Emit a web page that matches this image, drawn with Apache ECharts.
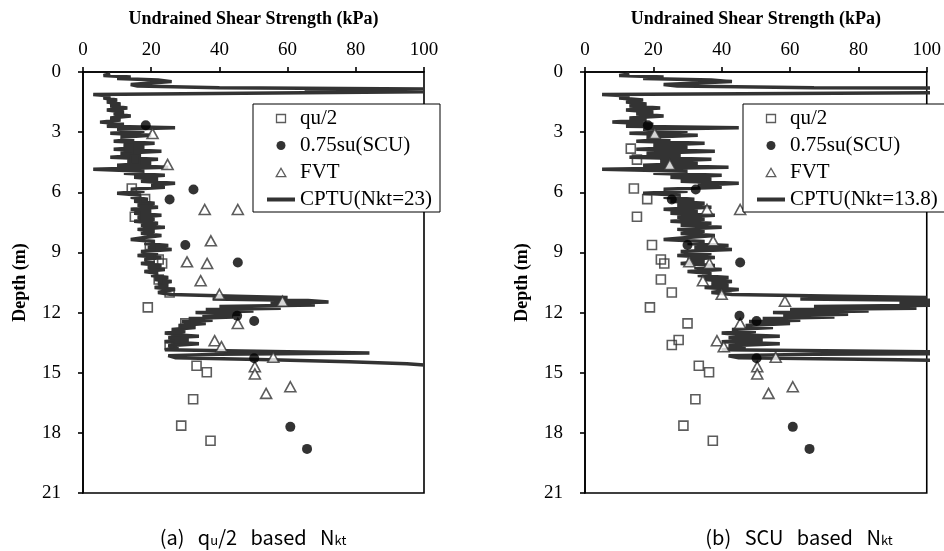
<!DOCTYPE html>
<html lang="en">
<head>
<meta charset="UTF-8">
<title>Undrained shear strength profiles</title>
<script src="https://cdn.jsdelivr.net/npm/echarts@6.0.0/dist/echarts.min.js"></script>
<style>
  html, body { margin: 0; padding: 0; background: #fff; }
</style>
</head>
<body>
<div id="main" style="width: 944px;height:551px;"></div>
<script type="text/javascript">
// tick labels
const suTicks = [0, 20, 40, 60, 80, 100];
const depthTicks = [0, 3, 6, 9, 12, 15, 18, 21];

// lab / field test results (same in both panels)
const quDepth = [3.82, 4.37, 5.81, 6.34, 7.22, 8.63, 9.35, 9.55, 10.35, 11.0, 11.74, 12.54, 13.37, 13.62, 14.65, 14.98, 16.32, 17.64, 18.39];
const quSu = [13.4, 15.2, 14.3, 18.2, 15.2, 19.6, 22.2, 23.2, 22.2, 25.4, 19.0, 30.0, 27.4, 25.4, 33.3, 36.3, 32.3, 28.8, 37.4];

const scuDepth = [2.66, 5.86, 6.36, 8.63, 9.5, 12.16, 12.42, 14.28, 17.7, 18.8];
const scuSu = [18.4, 32.4, 25.4, 30.0, 45.4, 45.2, 50.2, 50.2, 60.8, 65.7];

const fvtDepth = [3.07, 4.61, 6.86, 6.86, 8.42, 9.47, 9.55, 10.41, 11.09, 11.43, 12.54, 13.4, 13.7, 14.23, 14.7, 15.06, 15.7, 16.03];
const fvtSu = [20.4, 24.8, 35.7, 45.4, 37.5, 30.5, 36.4, 34.5, 40.0, 58.5, 45.4, 38.6, 40.6, 55.8, 50.4, 50.4, 60.8, 53.7];

// CPTU profile depths (m)
const cptuDepth = [0.10, 0.18, 0.25, 0.32, 0.40, 0.48, 0.55, 0.62, 0.70, 0.78, 0.85, 0.92, 0.98, 1.06, 1.12,
  1.20, 1.30, 1.40, 1.50, 1.60, 1.70, 1.80, 1.90, 2.00, 2.10, 2.20, 2.30, 2.40, 2.50, 2.60, 2.70, 2.78, 2.85, 2.95,
  3.05, 3.15, 3.25, 3.35, 3.45, 3.55, 3.65, 3.75, 3.85, 3.95, 4.05, 4.15, 4.25, 4.35, 4.45, 4.55, 4.65, 4.75, 4.85, 4.95,
  5.05, 5.15, 5.25, 5.35, 5.45, 5.55, 5.65, 5.75, 5.85, 5.95, 6.05, 6.15, 6.25, 6.35, 6.45, 6.55, 6.65, 6.75, 6.85, 6.95,
  7.05, 7.15, 7.25, 7.35, 7.45, 7.55, 7.65, 7.75, 7.85, 7.95, 8.05, 8.15, 8.25, 8.35, 8.45, 8.55, 8.65, 8.75, 8.85, 8.95,
  9.05, 9.15, 9.25, 9.35, 9.45, 9.55, 9.65, 9.75, 9.85, 9.95, 10.05, 10.15, 10.25, 10.35, 10.45, 10.55, 10.65, 10.75, 10.85, 10.92,
  11.00, 11.10, 11.18, 11.25, 11.32, 11.40, 11.47, 11.55, 11.62, 11.70, 11.78, 11.85, 11.92, 12.00, 12.08, 12.15, 12.22, 12.30, 12.38, 12.45,
  12.55, 12.65, 12.75, 12.85, 12.95, 13.02, 13.10, 13.18, 13.26, 13.35, 13.45, 13.55, 13.65, 13.75, 13.85, 13.95, 14.02, 14.08, 14.15, 14.25,
  14.35, 14.45, 14.55, 14.62];

// CPTU su, Nkt = 23 (kPa)
const cptuSu23 = [8, 6, 14, 10, 22, 26, 20, 14, 16, 40, 100, 65, 100, 100, 3,
  8, 6, 10, 7, 11, 8, 13, 7, 12, 9, 14, 8, 11, 5, 12, 7, 27, 10, 18,
  8, 20, 11, 15, 9, 21, 12, 18, 9, 23, 11, 17, 8, 22, 13, 20, 10, 25, 3, 18,
  12, 24, 15, 22, 17, 27, 20, 24, 14, 18, 10, 17, 14, 19, 15, 21, 16, 22, 14, 20,
  15, 23, 16, 21, 15, 22, 17, 24, 16, 21, 17, 23, 18, 14, 21, 18, 25, 19, 26, 17,
  22, 16, 23, 18, 21, 17, 23, 19, 24, 18, 22, 20, 25, 21, 26, 22, 25, 21, 27, 24,
  22, 26, 45, 60, 38, 66, 72, 55, 68, 40, 58, 36, 50, 33, 46, 35, 44, 31, 38, 29,
  36, 28, 33, 26, 30, 24, 27, 34, 25, 31, 24, 34, 25, 28, 24, 60, 84, 40, 25, 27,
  55, 78, 95, 100];

// CPTU su, Nkt = 13.8 (kPa), runs off the right edge where it exceeds 100
const cptuSu138 = [13, 10, 23, 17, 37, 43, 33, 23, 27, 67, 167, 108, 167, 167, 5,
  13, 10, 17, 12, 18, 13, 22, 12, 20, 15, 23, 13, 18, 8, 20, 12, 45, 17, 30,
  13, 33, 18, 25, 15, 35, 20, 30, 15, 38, 18, 28, 13, 37, 22, 33, 17, 42, 5, 30,
  20, 40, 25, 37, 28, 45, 33, 40, 23, 30, 17, 28, 23, 32, 25, 35, 27, 37, 23, 33,
  25, 38, 27, 35, 25, 37, 28, 40, 27, 35, 28, 38, 30, 23, 35, 30, 42, 32, 43, 28,
  37, 27, 38, 30, 35, 28, 38, 32, 40, 30, 37, 33, 42, 35, 43, 37, 42, 35, 45, 40,
  37, 43, 75, 100, 63, 110, 120, 92, 113, 67, 97, 60, 83, 55, 77, 58, 73, 52, 63, 48,
  60, 47, 55, 43, 50, 40, 45, 57, 42, 52, 40, 57, 42, 47, 40, 100, 140, 67, 42, 45,
  92, 130, 158, 167];

const serif = 'Liberation Serif';
const pair = (xs, ys) => xs.map((v, i) => [v, ys[i]]);

// legend icons: the extra moveTo points pin the icon box to 28x9 so the marks keep their shape
const squareIcon = 'path://M0,0M28,9M9.5,0.5L18.5,0.5L18.5,8.5L9.5,8.5Z';
const triangleIcon = 'path://M0,0M28,9M14,0.3L18.8,8.7L9.2,8.7Z';

const tickLabel = {
  fontFamily: serif, fontSize: 19, color: '#000',
  formatter: (v) => '{t|' + v + '}',
  rich: { t: { fontFamily: serif, fontSize: 19, color: '#000' } }
};

function xAxisFor(gridIndex) {
  return {
    gridIndex: gridIndex, type: 'value', position: 'top',
    min: suTicks[0], max: suTicks[suTicks.length - 1], interval: 20,
    name: 'Undrained Shear Strength (kPa)', nameLocation: 'middle', nameGap: 44,
    nameTextStyle: { fontFamily: serif, fontWeight: 'bold', fontSize: 18, color: '#000' },
    axisLine: { show: true, lineStyle: { color: '#000', width: 1.6 } },
    axisTick: { show: true, length: 5, lineStyle: { color: '#000', width: 1.6 } },
    axisLabel: Object.assign({ margin: 12 }, tickLabel),
    splitLine: { show: false }
  };
}
function yAxisFor(gridIndex) {
  return {
    gridIndex: gridIndex, type: 'value', inverse: true,
    min: depthTicks[0], max: depthTicks[depthTicks.length - 1], interval: 3,
    name: 'Depth (m)', nameLocation: 'middle', nameGap: 54,
    nameTextStyle: { fontFamily: serif, fontWeight: 'bold', fontSize: 18, color: '#000' },
    axisLine: { show: true, lineStyle: { color: '#000', width: 1.6 } },
    axisTick: { show: true, length: 5, lineStyle: { color: '#000', width: 1.6 } },
    axisLabel: Object.assign({ margin: 22 }, tickLabel),
    splitLine: { show: false }
  };
}
function seriesFor(idx, cptuName, cptuSu) {
  return [
    {
      name: cptuName, type: 'line', xAxisIndex: idx, yAxisIndex: idx,
      data: pair(cptuSu, cptuDepth), showSymbol: false, symbol: 'none', clip: true,
      lineStyle: { color: '#333', width: 3.5 }, itemStyle: { color: '#333' }, z: 2
    },
    {
      name: 'qu/2', type: 'scatter', xAxisIndex: idx, yAxisIndex: idx,
      data: pair(quSu, quDepth), symbol: 'rect', symbolSize: 9,
      itemStyle: { color: 'rgba(255,255,255,0)', borderColor: '#333', borderWidth: 1.6 }, z: 3
    },
    {
      name: 'FVT', type: 'scatter', xAxisIndex: idx, yAxisIndex: idx,
      data: pair(fvtSu, fvtDepth), symbol: 'triangle', symbolSize: [11, 10],
      itemStyle: { color: '#fff', borderColor: '#333', borderWidth: 1.6 }, z: 3
    },
    {
      name: '0.75su(SCU)', type: 'scatter', xAxisIndex: idx, yAxisIndex: idx,
      data: pair(scuSu, scuDepth), symbol: 'circle', symbolSize: 10,
      itemStyle: { color: '#000' }, z: 4
    }
  ];
}
function legendFor(left, cptuName, padRight) {
  return {
    orient: 'vertical', left: left, top: 104,
    data: [
      { name: 'qu/2', icon: squareIcon, itemStyle: { color: '#fff', borderColor: '#333', borderWidth: 1.3 } },
      { name: '0.75su(SCU)' },
      { name: 'FVT', icon: triangleIcon, itemStyle: { color: '#fff', borderColor: '#333', borderWidth: 1.3 } },
      { name: cptuName, itemStyle: { opacity: 0 }, lineStyle: { width: 4, color: '#333' } }
    ],
    itemWidth: 28, itemHeight: 9, itemGap: 6,
    padding: [4, padRight, 2, 12],
    backgroundColor: '#fff', borderColor: '#000', borderWidth: 1,
    textStyle: { fontFamily: serif, fontSize: 21, color: '#000' },
    selectedMode: false
  };
}

let options = {
  animation: false,
  backgroundColor: '#fff',
  textStyle: { fontFamily: serif },
  grid: [
    { left: 83, top: 72, width: 341, height: 421, show: true, borderColor: '#000', borderWidth: 1.6, backgroundColor: 'transparent' },
    { left: 585, top: 72, width: 343, height: 421, show: true, borderColor: '#000', borderWidth: 1.6, backgroundColor: 'transparent' }
  ],
  xAxis: [xAxisFor(0), xAxisFor(1)],
  yAxis: [yAxisFor(0), yAxisFor(1)],
  legend: [legendFor(253, 'CPTU(Nkt=23)', 8), legendFor(743, 'CPTU(Nkt=13.8)', 14)],
  series: seriesFor(0, 'CPTU(Nkt=23)', cptuSu23).concat(seriesFor(1, 'CPTU(Nkt=13.8)', cptuSu138)),
  graphic: [
    {
      type: 'text', x: 253, y: 537,
      style: {
        text: '(a)   q{s|u}/2   based   N{s|kt}', fill: '#000',
        font: '20px "Noto Sans CJK KR"', align: 'center', verticalAlign: 'middle',
        rich: { s: { fontSize: 13, verticalAlign: 'bottom', lineHeight: 13, fontFamily: 'Noto Sans CJK KR' } }
      }
    },
    {
      type: 'text', x: 799, y: 537,
      style: {
        text: '(b)   SCU   based   N{s|kt}', fill: '#000',
        font: '20px "Noto Sans CJK KR"', align: 'center', verticalAlign: 'middle',
        rich: { s: { fontSize: 13, verticalAlign: 'bottom', lineHeight: 13, fontFamily: 'Noto Sans CJK KR' } }
      }
    }
  ]
};

let myChart = echarts.init(document.getElementById('main'));
myChart.setOption(options);
</script>
</body>
</html>
